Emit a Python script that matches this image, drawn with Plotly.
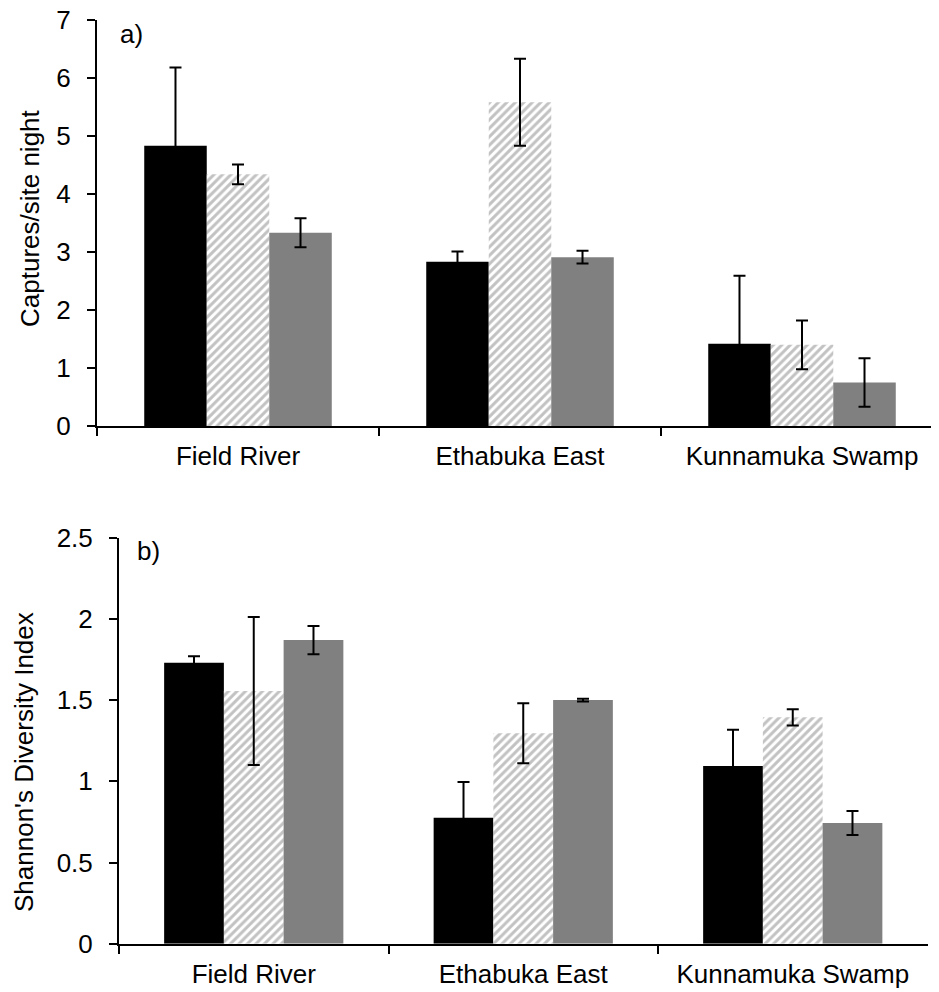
import plotly.graph_objects as go

# The page body has an 8px default margin; the figure is sized/positioned to compensate.
OFF = 8
W, H = 939 - OFF, 992 - OFF

sites = ["Field River", "Ethabuka East", "Kunnamuka Swamp"]

# Panel a) captures per site night
cap_black = [4.83, 2.83, 1.42]
cap_black_err = [1.35, 0.18, 1.17]
cap_hatch = [4.34, 5.58, 1.40]
cap_hatch_err = [0.17, 0.75, 0.42]
cap_gray = [3.33, 2.91, 0.75]
cap_gray_err = [0.25, 0.11, 0.42]

# Panel b) Shannon's diversity index
div_black = [1.73, 0.776, 1.094]
div_black_err = [0.04, 0.22, 0.224]
div_hatch = [1.556, 1.296, 1.394]
div_hatch_err = [0.455, 0.185, 0.05]
div_gray = [1.87, 1.50, 0.743]
div_gray_err = [0.087, 0.008, 0.074]

FONT = "Liberation Sans, Arial, sans-serif"
FS = 26

fig = go.Figure()

def err(vals):
    return dict(type="data", array=vals, visible=True, color="black", thickness=2, width=6)

hatch_marker = dict(color="white", line=dict(width=0),
                    pattern=dict(shape="/", fgcolor="#c2c2c2", bgcolor="white", size=6, solidity=0.5))

for xa, ya, b, be, h, he, g, ge in [
    ("x", "y", cap_black, cap_black_err, cap_hatch, cap_hatch_err, cap_gray, cap_gray_err),
    ("x2", "y2", div_black, div_black_err, div_hatch, div_hatch_err, div_gray, div_gray_err),
]:
    fig.add_trace(go.Bar(x=sites, y=b, error_y=err(be), marker=dict(color="black", line=dict(width=0)),
                         xaxis=xa, yaxis=ya, showlegend=False))
    fig.add_trace(go.Bar(x=sites, y=h, error_y=err(he), marker=hatch_marker,
                         xaxis=xa, yaxis=ya, showlegend=False))
    fig.add_trace(go.Bar(x=sites, y=g, error_y=err(ge), marker=dict(color="#808080", line=dict(width=0)),
                         xaxis=xa, yaxis=ya, showlegend=False))

def px_x(p):
    return (p - OFF) / W

def px_y(p):
    return 1 - (p - OFF) / H

xcommon = dict(type="category", showline=True, linecolor="black", linewidth=2, ticks="outside",
               tickson="boundaries", ticklen=8, tickwidth=2, tickcolor="black", showgrid=False,
               zeroline=False, tickfont=dict(family=FONT, size=FS, color="black"),
               ticklabelstandoff=6, automargin=False, ticklabeloverflow="allow")
ycommon = dict(showline=True, linecolor="black", linewidth=2, ticks="outside", ticklen=8,
               tickwidth=2, tickcolor="black", showgrid=False, zeroline=False,
               tickfont=dict(family=FONT, size=FS, color="black"), ticklabelstandoff=11,
               automargin=False, ticklabeloverflow="allow")

fig.update_layout(
    template="none",
    width=W, height=H,
    margin=dict(l=0, r=0, t=0, b=0, pad=0),
    paper_bgcolor="white", plot_bgcolor="white",
    barmode="group", bargap=0.335, bargroupgap=0,
    xaxis=dict(**xcommon, domain=[px_x(97), 1.0], range=[-0.5, -0.5 + 842 / 282], anchor="y"),
    yaxis=dict(**ycommon, domain=[px_y(426), px_y(20)], range=[0, 7], dtick=1, anchor="x"),
    xaxis2=dict(**xcommon, domain=[px_x(119), px_x(927.5)], range=[-0.5, 2.5], anchor="y2"),
    yaxis2=dict(**ycommon, domain=[px_y(943.7), px_y(537.7)], range=[0, 2.5], dtick=0.5, anchor="x2"),
    annotations=[
        dict(text="Captures/site night", x=px_x(30), y=px_y(218), xref="paper", yref="paper",
             textangle=-90, showarrow=False, xanchor="center", yanchor="middle",
             font=dict(family=FONT, size=FS, color="black")),
        dict(text="Shannon's Diversity Index", x=px_x(24), y=px_y(762), xref="paper", yref="paper",
             textangle=-90, showarrow=False, xanchor="center", yanchor="middle",
             font=dict(family=FONT, size=FS, color="black")),
        dict(text="a)", x=px_x(131), y=px_y(34), xref="paper", yref="paper", showarrow=False,
             xanchor="center", yanchor="middle", font=dict(family=FONT, size=FS, color="black")),
        dict(text="b)", x=px_x(148), y=px_y(551), xref="paper", yref="paper", showarrow=False,
             xanchor="center", yanchor="middle", font=dict(family=FONT, size=FS, color="black")),
    ],
)

fig.write_html("out.html")
